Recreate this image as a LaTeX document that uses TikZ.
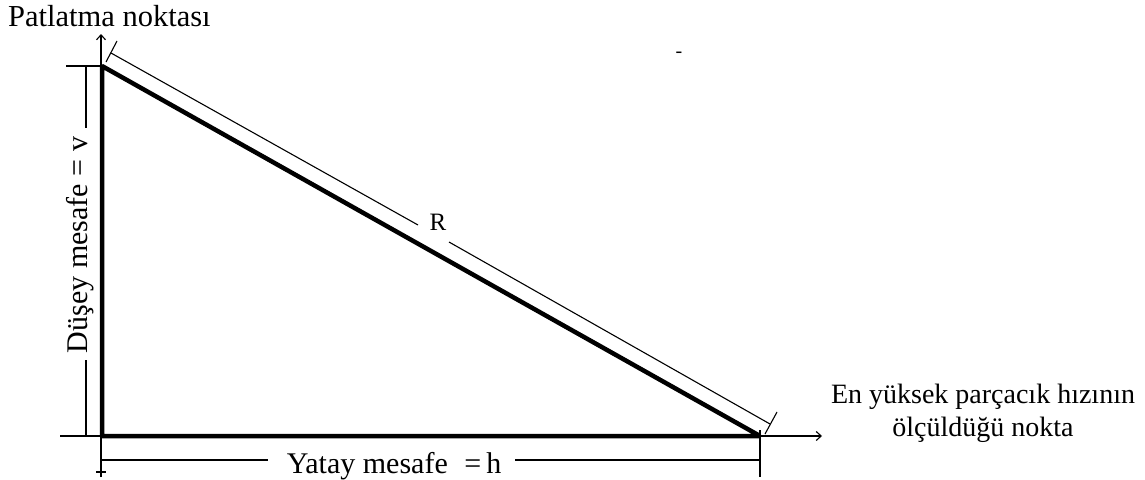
\documentclass[tikz,border=0pt]{standalone}
\usepackage{fontspec}
\setmainfont{Liberation Serif}
\usetikzlibrary{arrows.meta}
\begin{document}
\begin{tikzpicture}[x=1pt,y=-1pt,
  heavy/.style={line width=4.5pt,line join=bevel},
  thin/.style={line width=1.1pt},
  axis/.style={thin,-{Straight Barb[length=5pt,width=9pt]}},
  lbl/.style={inner sep=0pt,font=\fontsize{28}{32}\selectfont},
  dimlbl/.style={inner sep=0pt,font=\fontsize{30}{34}\selectfont}]
\useasboundingbox (0,0) rectangle (1145,479);
% triangle corners
\coordinate (A) at (102,66);
\coordinate (B) at (102,436);
\coordinate (C) at (760,436);
% axes
\coordinate (vbot) at (101,477);
\coordinate (vtop) at (101,34);
\coordinate (hl) at (60,436);
\coordinate (hr) at (822,436);
\coordinate (tb1) at (96,472);
\coordinate (tb2) at (106,472);
\draw[axis] (vbot) -- (vtop);
\draw[thin] (tb1) -- (tb2);
\draw[axis] (hl) -- (hr);
% triangle
\draw[heavy] (A) -- (B) -- (C) -- cycle;
% vertical dimension
\coordinate (vt1) at (66,66);
\coordinate (vd1) at (86,66);
\coordinate (vd2) at (86,128);
\coordinate (vd3) at (86,360);
\coordinate (vd4) at (86,436);
\draw[thin] (vt1) -- (A);
\draw[thin] (vd1) -- (vd2);
\draw[thin] (vd3) -- (vd4);
\node[dimlbl,rotate=90,anchor=base] (vlab) at (87,245) {Düşey mesafe = v};
% horizontal dimension
\coordinate (hd1) at (102,460);
\coordinate (hd2) at (268,460);
\coordinate (hd3) at (515,460);
\coordinate (hd4) at (760,460);
\coordinate (ht1) at (760,430);
\coordinate (ht2) at (760,477);
\draw[thin] (hd1) -- (hd2);
\draw[thin] (hd3) -- (hd4);
\draw[thin] (ht1) -- (ht2);
\node[dimlbl,anchor=base] (hlab) at (394,473) {Yatay mesafe\hspace{0.55em}=\,h};
% R dimension
\coordinate (r1) at (111,53);
\coordinate (r2) at (418,225);
\coordinate (r3) at (449,242);
\coordinate (r4) at (770,424);
\coordinate (rt1) at (106,62);
\coordinate (rt2) at (117,41);
\coordinate (rt3) at (765,434);
\coordinate (rt4) at (777,412);
\draw[thin] (r1) -- (r2);
\draw[thin] (r3) -- (r4);
\draw[thin] (rt1) -- (rt2);
\draw[thin] (rt3) -- (rt4);
\node[inner sep=0pt,font=\fontsize{25}{28}\selectfont] (R) at (438,222) {R};
% texts
\node[inner sep=0pt,font=\fontsize{30.5}{34}\selectfont,anchor=base west] (pn) at (8,26) {Patlatma noktası};
\node[lbl,anchor=base] (en1) at (983,403) {En yüksek parçacık hızının};
\node[lbl,anchor=base] (en2) at (983,436) {ölçüldüğü nokta};
\node[inner sep=0pt,font=\fontsize{20}{24}\selectfont] (dash) at (679,55) {-};
\end{tikzpicture}
\end{document}
